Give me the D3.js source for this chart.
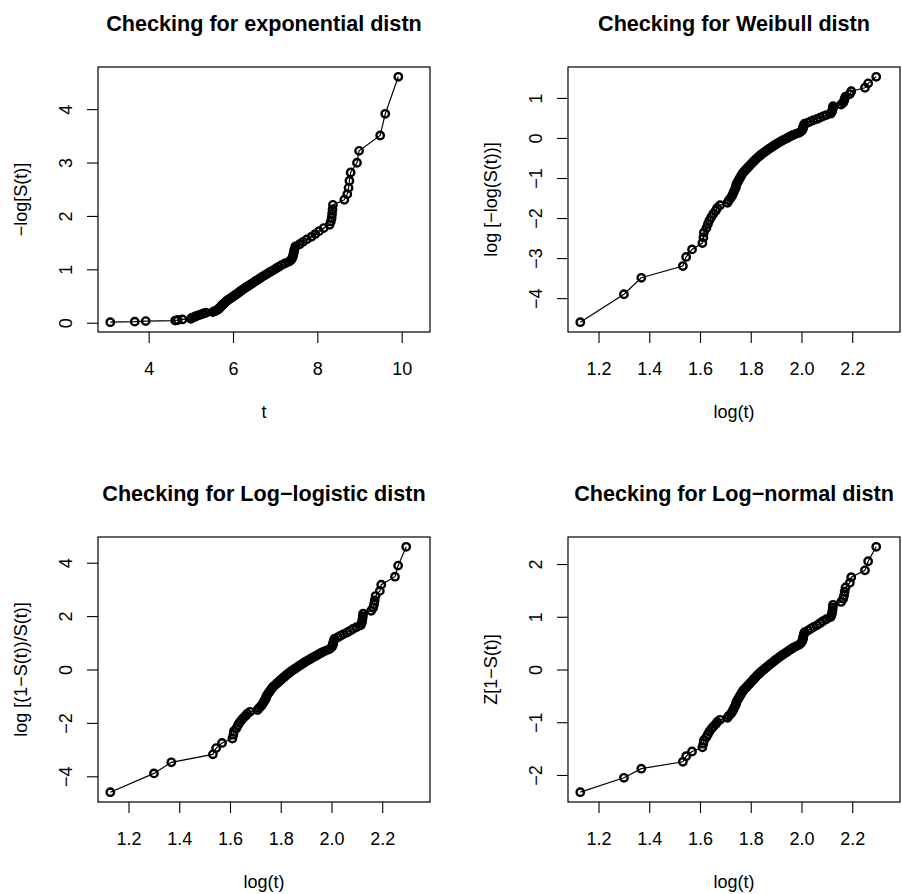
<!DOCTYPE html>
<html>
<head>
<meta charset="utf-8">
<script src="https://cdn.jsdelivr.net/npm/d3@7"></script>
<style>
  body { margin: 0; background: #fff; }
  svg { display: block; }
  text { font-family: "Liberation Sans", Arial, Helvetica, sans-serif; fill: #000; }
</style>
</head>
<body>
<svg id="chart" width="902" height="894"></svg>
<script>
// Survival times (sorted); last one has S(t) = 0
const times = [
  3.09, 3.67, 3.93, 4.63, 4.69, 4.80, 5.00, 5.02, 5.03, 5.08,
  5.11, 5.14, 5.18, 5.22, 5.27, 5.30, 5.36, 5.52, 5.55, 5.59,
  5.62, 5.64, 5.66, 5.68, 5.70, 5.71, 5.72, 5.74, 5.76, 5.78,
  5.80, 5.82, 5.84, 5.86, 5.89, 5.92, 5.95, 5.98, 6.01, 6.04,
  6.07, 6.10, 6.13, 6.16, 6.19, 6.22, 6.26, 6.29, 6.33, 6.37,
  6.41, 6.45, 6.49, 6.53, 6.58, 6.62, 6.66, 6.71, 6.76, 6.81,
  6.86, 6.92, 6.98, 7.03, 7.09, 7.15, 7.23, 7.32, 7.37, 7.40,
  7.42, 7.43, 7.44, 7.45, 7.46, 7.48, 7.58, 7.66, 7.75, 7.86,
  7.95, 8.04, 8.15, 8.29, 8.32, 8.34, 8.35, 8.36, 8.37, 8.64,
  8.71, 8.74, 8.76, 8.79, 8.94, 8.99, 9.49, 9.61, 9.92, 10.38
];

// Kaplan-Meier survival estimate at each of those times
const survival = [
  0.99, 0.98, 0.97, 0.96, 0.95, 0.94, 0.93, 0.92, 0.91, 0.90,
  0.89, 0.88, 0.87, 0.86, 0.85, 0.84, 0.83, 0.82, 0.81, 0.80,
  0.79, 0.78, 0.77, 0.76, 0.75, 0.74, 0.73, 0.72, 0.71, 0.70,
  0.69, 0.68, 0.67, 0.66, 0.65, 0.64, 0.63, 0.62, 0.61, 0.60,
  0.59, 0.58, 0.57, 0.56, 0.55, 0.54, 0.53, 0.52, 0.51, 0.50,
  0.49, 0.48, 0.47, 0.46, 0.45, 0.44, 0.43, 0.42, 0.41, 0.40,
  0.39, 0.38, 0.37, 0.36, 0.35, 0.34, 0.33, 0.32, 0.31, 0.30,
  0.29, 0.28, 0.27, 0.26, 0.25, 0.24, 0.23, 0.22, 0.21, 0.20,
  0.19, 0.18, 0.17, 0.16, 0.15, 0.14, 0.13, 0.12, 0.11, 0.10,
  0.09, 0.08, 0.07, 0.06, 0.05, 0.04, 0.03, 0.02, 0.01, 0.00
];

// Tick labels
const ticksT = [4, 6, 8, 10];
const ticksLogT = [1.2, 1.4, 1.6, 1.8, 2.0, 2.2];
const ticksExp = [0, 1, 2, 3, 4];
const ticksWeibull = [-4, -3, -2, -1, 0, 1];
const ticksLogLogistic = [-4, -2, 0, 2, 4];
const ticksLogNormal = [-2, -1, 0, 1, 2];

// Titles and axis labels
const titles = ['Checking for exponential distn', 'Checking for Weibull distn',
  'Checking for Log\u2212logistic distn', 'Checking for Log\u2212normal distn'];
const xLabels = ['t', 'log(t)', 'log(t)', 'log(t)'];
const yLabels = ['\u2212log[S(t)]', 'log [\u2212log(S(t))]',
  'log [(1\u2212S(t))/S(t)]', 'Z[1\u2212S(t)]'];

// Inverse of the standard normal CDF (Acklam's approximation)
function qnorm(p) {
  if (p <= 0) return -Infinity;
  if (p >= 1) return Infinity;
  var a = [-3.969683028665376e+01, 2.209460984245205e+02, -2.759285104469687e+02,
    1.383577518672690e+02, -3.066479806614716e+01, 2.506628277459239e+00];
  var b = [-5.447609879822406e+01, 1.615858368580409e+02, -1.556989798598866e+02,
    6.680131188771972e+01, -1.328068155288572e+01];
  var c = [-7.784894002430293e-03, -3.223964580411365e-01, -2.400758277161838e+00,
    -2.549732539343734e+00, 4.374664141464968e+00, 2.938163982698783e+00];
  var d = [7.784695709041462e-03, 3.224671290700398e-01, 2.445134137142996e+00,
    3.754408661907416e+00];
  var plow = 0.02425, q, r;
  if (p < plow || p > 1 - plow) {
    q = Math.sqrt(-2 * Math.log(p < plow ? p : 1 - p));
    var v = (((((c[0] * q + c[1]) * q + c[2]) * q + c[3]) * q + c[4]) * q + c[5]) /
      ((((d[0] * q + d[1]) * q + d[2]) * q + d[3]) * q + 1);
    return p < plow ? v : -v;
  }
  q = p - 0.5; r = q * q;
  return (((((a[0] * r + a[1]) * r + a[2]) * r + a[3]) * r + a[4]) * r + a[5]) * q /
    (((((b[0] * r + b[1]) * r + b[2]) * r + b[3]) * r + b[4]) * r + 1);
}

// The four panels: what goes on x and y
var panels = [
  { x: function(t) { return t; }, y: function(s) { return -Math.log(s); },
    xTicks: ticksT, yTicks: ticksExp, fmt: d3.format('d') },
  { x: Math.log, y: function(s) { return Math.log(-Math.log(s)); },
    xTicks: ticksLogT, yTicks: ticksWeibull, fmt: d3.format('.1f') },
  { x: Math.log, y: function(s) { return Math.log((1 - s) / s); },
    xTicks: ticksLogT, yTicks: ticksLogLogistic, fmt: d3.format('.1f') },
  { x: Math.log, y: function(s) { return qnorm(1 - s); },
    xTicks: ticksLogT, yTicks: ticksLogNormal, fmt: d3.format('.1f') }
];

// Layout of each plot region (pixels)
var BOX_W = 332, BOX_H = 265;
var BOX_LEFT = [98, 568, 98, 568],
    BOX_TOP = [67, 67, 537, 537];
var TICK_LEN = 11;

var minus = function(s) { return String(s).replace('-', '\u2212'); };

// Like R: the data range extended by 4% on both sides
function padRange(values) {
  var ext = d3.extent(values.filter(isFinite));
  var pad = (ext[1] - ext[0]) * 0.04;
  return [ext[0] - pad, ext[1] + pad];
}

var svg = d3.select('#chart');

panels.forEach(function(p, k) {
  var pts = times.map(function(t, i) {
    return { x: p.x(t), y: p.y(survival[i]) };
  });

  var xScale = d3.scaleLinear()
    .domain(padRange(pts.map(function(d) { return d.x; })))
    .range([0, BOX_W]);
  var yScale = d3.scaleLinear()
    .domain(padRange(pts.map(function(d) { return d.y; })))
    .range([BOX_H, 0]);

  var g = svg.append('g')
    .attr('transform', 'translate(' + BOX_LEFT[k] + ',' + BOX_TOP[k] + ')');

  // x axis
  var xAxis = g.append('g')
    .attr('transform', 'translate(0,' + BOX_H + ')')
    .call(d3.axisBottom(xScale)
      .tickValues(p.xTicks)
      .tickSize(TICK_LEN)
      .tickPadding(19));
  xAxis.select('.domain').remove();
  xAxis.selectAll('line').attr('stroke', '#000').attr('stroke-width', 1.1);
  xAxis.selectAll('text')
    .attr('font-size', 18)
    .attr('font-family', null)
    .text(function(d) { return minus(p.fmt(d)); });

  // y axis, labels parallel to the axis
  var yAxis = g.append('g')
    .call(d3.axisLeft(yScale)
      .tickValues(p.yTicks)
      .tickSize(TICK_LEN));
  yAxis.select('.domain').remove();
  yAxis.selectAll('line').attr('stroke', '#000').attr('stroke-width', 1.1);
  yAxis.selectAll('text')
    .attr('font-size', 18)
    .attr('font-family', null)
    .attr('x', 0)
    .attr('y', -26)
    .attr('dy', null)
    .attr('text-anchor', 'middle')
    .attr('transform', 'rotate(-90)')
    .text(function(d) { return minus(d); });

  // box
  g.append('rect')
    .attr('width', BOX_W)
    .attr('height', BOX_H)
    .attr('fill', 'none')
    .attr('stroke', '#000')
    .attr('stroke-width', 1.2);

  var shown = pts.filter(function(d) { return isFinite(d.y); });

  // connecting line
  g.append('path')
    .datum(shown)
    .attr('fill', 'none')
    .attr('stroke', '#000')
    .attr('stroke-width', 1.2)
    .attr('d', d3.line()
      .x(function(d) { return xScale(d.x); })
      .y(function(d) { return yScale(d.y); }));

  // open circles
  g.selectAll('circle.pt')
    .data(shown)
    .join('circle')
    .attr('class', 'pt')
    .attr('cx', function(d) { return xScale(d.x); })
    .attr('cy', function(d) { return yScale(d.y); })
    .attr('r', 3.7)
    .attr('fill', 'none')
    .attr('stroke', '#000')
    .attr('stroke-width', 2.4);

  // title
  g.append('text')
    .attr('x', BOX_W / 2)
    .attr('y', -36)
    .attr('text-anchor', 'middle')
    .attr('font-size', 21.6)
    .attr('font-weight', 'bold')
    .text(titles[k]);

  // axis labels
  g.append('text')
    .attr('x', BOX_W / 2)
    .attr('y', BOX_H + 86)
    .attr('text-anchor', 'middle')
    .attr('font-size', 18)
    .text(xLabels[k]);

  g.append('text')
    .attr('transform', 'translate(' + (-71) + ',' + (BOX_H / 2) + ') rotate(-90)')
    .attr('text-anchor', 'middle')
    .attr('font-size', 18)
    .text(yLabels[k]);
});
</script>
</body>
</html>
